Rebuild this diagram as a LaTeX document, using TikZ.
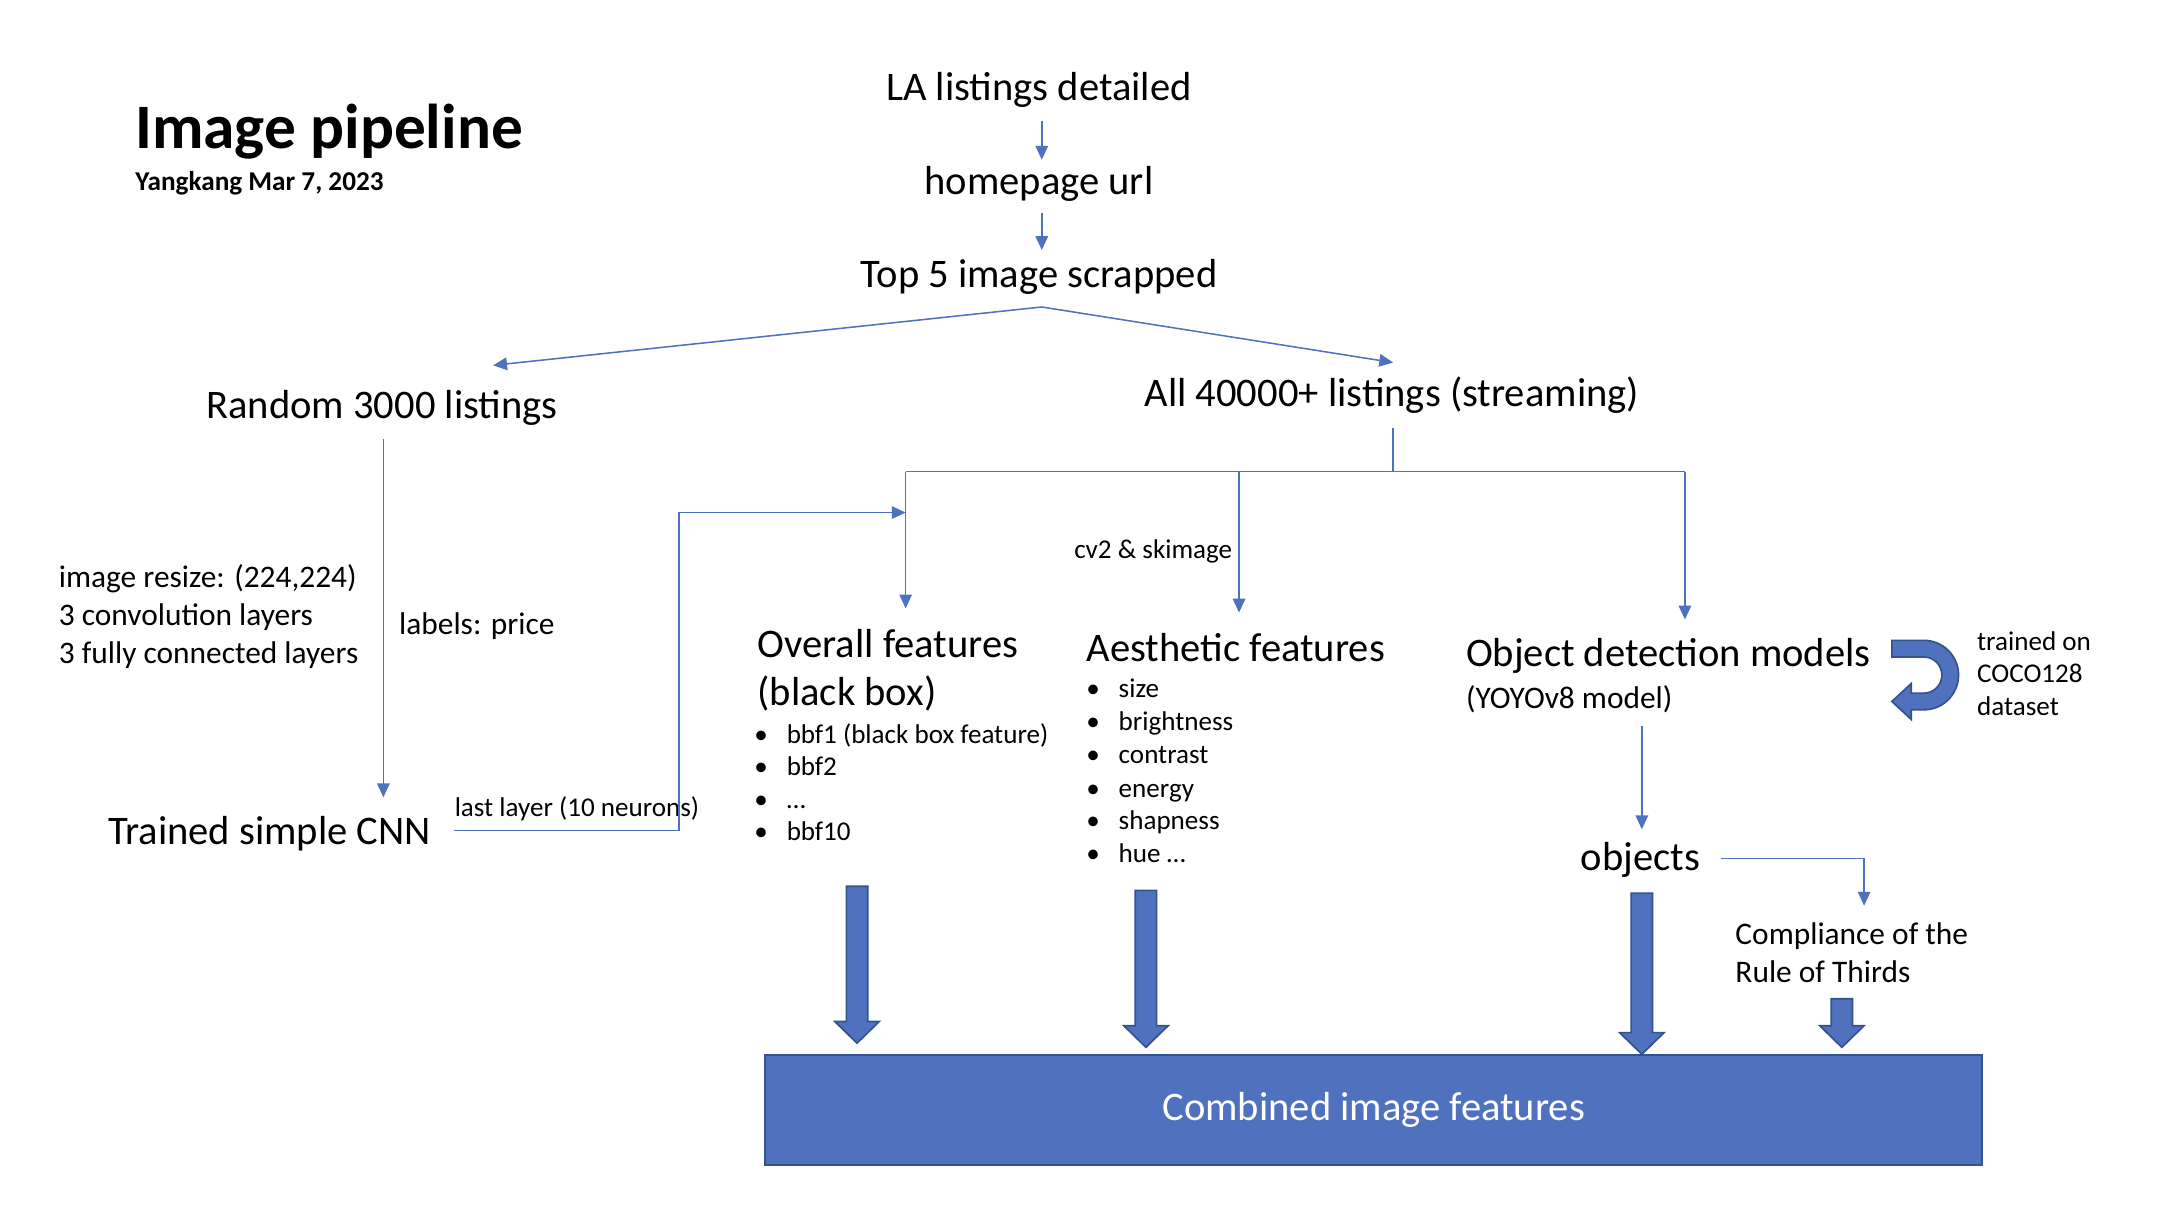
\documentclass[tikz,border=0pt]{standalone}
\usepackage{fontspec}
\setmainfont{Carlito}
\usetikzlibrary{arrows.meta}
\definecolor{obl}{HTML}{4F71BE}
\definecolor{obd}{HTML}{34528F}
\newcommand\blkarrow[3]{%
  \filldraw[blk] ({#1-7.7},#2) -- ({#1+7.7},#2) -- ({#1+7.7},{#3-15.6}) -- ({#1+16},{#3-15.6}) -- (#1,#3) -- ({#1-16},{#3-15.6}) -- ({#1-7.7},{#3-15.6}) -- cycle;}
\begin{document}
\begin{tikzpicture}[x=0.5pt,y=-0.5pt,
  big/.style={font=\fontsize{14.6}{17.5}\selectfont, inner sep=0pt},
  mid/.style={font=\fontsize{11.3}{13.5}\selectfont, inner sep=0pt},
  sml/.style={font=\fontsize{9.75}{11.7}\selectfont, inner sep=0pt},
  conn/.style={draw=obl, line width=0.55pt},
  arr/.style={conn, -{Triangle[width=4.5pt,length=5pt]}},
  blk/.style={fill=obl, draw=obd, line width=0.6pt}]
\useasboundingbox (0,0) rectangle (1568,884);
% title
\node (title) [anchor=base west, inner sep=0pt, font=\fontsize{22.8}{27}\selectfont\bfseries] at (97,107) {Image pipeline};
\node (sub) [anchor=base west, inner sep=0pt, font=\fontsize{9.8}{12}\selectfont\bfseries] at (97,137) {Yangkang Mar 7, 2023};
% main chain
\node (la) [big, anchor=base] at (748,72) {LA listings detailed};
\node (hp) [big, anchor=base] at (748,140) {homepage url};
\node (top) [big, anchor=base] at (748,207) {Top 5 image scrapped};
\node (rnd) [big, anchor=base] at (275,301) {Random 3000 listings};
\node (all) [big, anchor=base] at (1002,293) {All 40000+ listings (streaming)};
\node (cnn) [big, anchor=base] at (194,608) {Trained simple CNN};
% left notes
\node (n1) [mid, anchor=base west] at (42,423) {image resize: (224,224)};
\node (n2) [mid, anchor=base west] at (42,450) {3 convolution layers};
\node (n3) [mid, anchor=base west] at (42,478) {3 fully connected layers};
\node (lab) [mid, anchor=base west] at (287,457) {labels: price};
\node (last) [sml, anchor=base west] at (327,588) {last layer (10 neurons)};
\node (cv) [sml, anchor=base west] at (773,402) {cv2 \& skimage};
% overall features
\node (ov1) [big, anchor=base west] at (545,473) {Overall features};
\node (ov2) [big, anchor=base west] at (545,508) {(black box)};
\foreach \t/\y/\n in {bbf1 (black box feature)/535/1, bbf2/558/2, …/582/3, bbf10/605/4}{
  \node (bd\n) [sml, anchor=base] at (548,\y) {•};
  \node (bo\n) [sml, anchor=base west] at (566,\y) {\t};
}
% aesthetic
\node (ae) [big, anchor=base west] at (782,476) {Aesthetic features};
\foreach \t/\y/\n in {size/502/1, brightness/526/2, contrast/550/3, energy/574/4, shapness/597/5, hue …/621/6}{
  \node (ad\n) [sml, anchor=base] at (787,\y) {•};
  \node (ai\n) [sml, anchor=base west] at (805,\y) {\t};
}
% object detection
\node (od) [big, anchor=base west] at (1055,480) {Object detection models};
\node (yo) [mid, anchor=base west] at (1055,510) {(YOYOv8 model)};
\node (tr1) [sml, anchor=base west] at (1423,468) {trained on};
\node (tr2) [sml, anchor=base west] at (1423,491) {COCO128};
\node (tr3) [sml, anchor=base west] at (1423,515) {dataset};
\node (obj) [big, anchor=base] at (1181,627) {objects};
\node (ru1) [mid, anchor=base west] at (1249,680) {Compliance of the};
\node (ru2) [mid, anchor=base west] at (1249,707) {Rule of Thirds};
% combined box
\node (comb) [fill=obl, draw=obd, line width=0.8pt, minimum width=438pt, minimum height=39.5pt, inner sep=0pt, text=white, big] at (989,799) {Combined image features};
% coordinates for connectors
\coordinate (laB) at (750,87);   \coordinate (hpT) at (750,115);
\coordinate (hpB) at (750,153);  \coordinate (topT) at (750,180);
\coordinate (topB) at (750,221);
\coordinate (rndT) at (355,263); \coordinate (allT) at (1003,261);
\coordinate (rndB) at (276,316); \coordinate (cnnT) at (276,574);
\coordinate (allB) at (1003,308); \coordinate (allJ) at (1003,339.5);
\coordinate (hL) at (652,339.5); \coordinate (hM) at (892,339.5); \coordinate (hR) at (1213,339.5);
\coordinate (ovT) at (652,438); \coordinate (aeT) at (892,441); \coordinate (odT) at (1213,446);
\coordinate (cnnR) at (327,598); \coordinate (ovL) at (652,369);
\coordinate (odB) at (1182,523); \coordinate (objT) at (1182,597);
\coordinate (objR) at (1239,618); \coordinate (ruT) at (1342,652);
% connectors
\draw[arr] (laB) -- (hpT);
\draw[arr] (hpB) -- (topT);
\draw[arr] (topB) -- (rndT);
\draw[arr] (topB) -- (allT);
\draw[arr] (rndB) -- (cnnT);
\draw[conn] (allB) -- (allJ);
\draw[conn] (hL) -- (hR);
\draw[arr] (hL) -- (ovT);
\draw[arr] (hM) -- (aeT);
\draw[arr] (hR) -- (odT);
\draw[arr] (cnnR) -- (489,598) -- (489,369) -- (ovL);
\draw[arr] (odB) -- (objT);
\draw[arr] (objR) -- (1342,618) -- (ruT);
% block arrows
\blkarrow{617}{638}{751}
\blkarrow{825}{641}{754}
\blkarrow{1182}{643}{759}
\blkarrow{1326}{719}{754}
% u-turn arrow
\filldraw[blk] (1362,461) -- (1385,461)
  .. controls (1398.8,461) and (1410,472.2) .. (1410,486)
  .. controls (1410,499.8) and (1398.8,511) .. (1385,511)
  -- (1376,511) -- (1376,518) -- (1362,505) -- (1376,492) -- (1376,499) -- (1385,499)
  .. controls (1392.2,499) and (1398,493.2) .. (1398,486)
  .. controls (1398,478.8) and (1392.2,473) .. (1385,473)
  -- (1362,473) -- cycle;
\end{tikzpicture}
\end{document}
